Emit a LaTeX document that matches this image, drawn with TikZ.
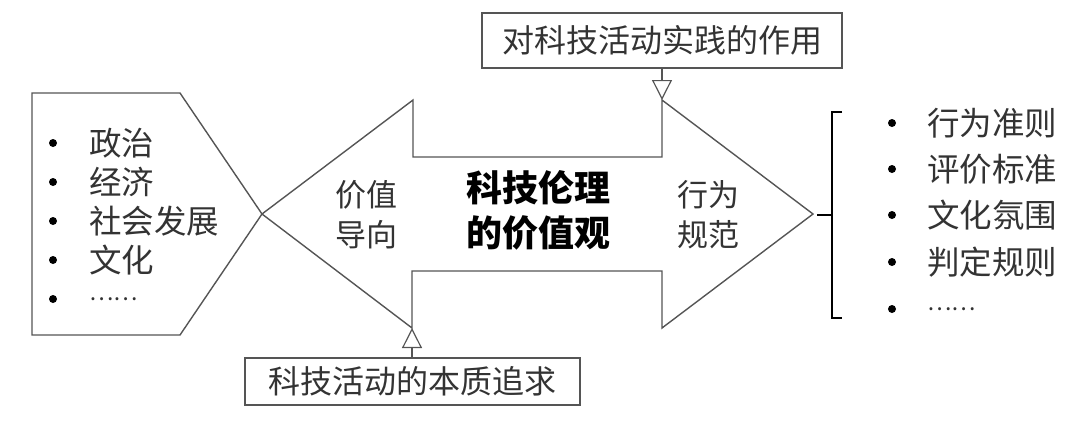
\documentclass[tikz,border=0pt]{standalone}
\usepackage{fontspec}
\setmainfont{Noto Sans CJK SC}
\usetikzlibrary{arrows.meta}
\definecolor{ln}{HTML}{555555}
\definecolor{tx}{HTML}{333333}
\begin{document}
\begin{tikzpicture}[x=1pt,y=-1pt,
  shape line/.style={draw=ln,line width=1.4pt,line join=miter},
  lbl/.style={text=tx,font=\fontsize{32.5}{36}\selectfont,inner sep=0pt,anchor=west},
  dots/.style={text=tx,font=\fontsize{23}{26}\selectfont,inner sep=0pt,anchor=west},
  mid/.style={text=tx,font=\fontsize{31}{40}\selectfont,align=center,inner sep=0pt},
  boxed/.style={draw=ln,line width=1.4pt,text=tx,font=\fontsize{32}{36}\selectfont,minimum height=55pt,inner xsep=4pt},
  bul/.style={fill=black},
  tri/.style={draw=ln,line width=1.2pt,-{Triangle[open,length=20pt,width=20pt,line width=1.2pt]}}]
\useasboundingbox (0,0) rectangle (1080,421);
% left pentagon
\draw[shape line] (32,93) -- (180,93) -- (262,214) -- (180,335) -- (32,335) -- cycle;
% double arrow
\coordinate (ltip) at (262,214);
\coordinate (rtip) at (813,214);
\coordinate (tophead) at (662,100);
\coordinate (bothead) at (412,328);
\draw[shape line] (ltip) -- (413,100) -- (413,157) -- (662,157) -- (tophead) -- (rtip)
  -- (662,328) -- (662,271) -- (412,271) -- (bothead) -- cycle;
% left list
\foreach \t/\y [count=\i] in {政治/143,经济/182,社会发展/221,文化/260}{
  \fill[bul] (53,\y) circle (4pt);
  \node[lbl] (l\i) at (89,\y) {\t};
}
\fill[bul] (53,299) circle (4pt);
\node[dots] (l5) at (89,299) {……};
% right list
\foreach \t/\y [count=\i] in {行为准则/123,评价标准/169,文化氛围/215,判定规则/262}{
  \fill[bul] (892,\y) circle (4pt);
  \node[lbl] (r\i) at (927,\y) {\t};
}
\fill[bul] (892,309) circle (4pt);
\node[dots] (r5) at (927,309) {……};
% bracket
\draw[black,line width=1.6pt] (842,112) -- (832,112) -- (832,318) -- (842,318);
\draw[black,line width=1.6pt] (817,215) -- (832,215);
% arrow texts
\node[mid] (vg) at (366,215) {价值\\导向};
\node[mid] (xw) at (708,215) {行为\\规范};
\node[mid,font=\fontsize{36}{45}\selectfont\bfseries,text=black] (core) at (538,210) {科技伦理\\的价值观};
% boxes
\node[boxed,minimum width=360pt] (topbox) at (662,40.5) {对科技活动实践的作用};
\node[boxed,minimum width=335pt,minimum height=47pt] (botbox) at (412.5,381.5) {科技活动的本质追求};
\draw[tri] (topbox.south -| tophead) -- (tophead);
\draw[tri] (botbox.north -| bothead) -- (bothead);
\end{tikzpicture}
\end{document}
